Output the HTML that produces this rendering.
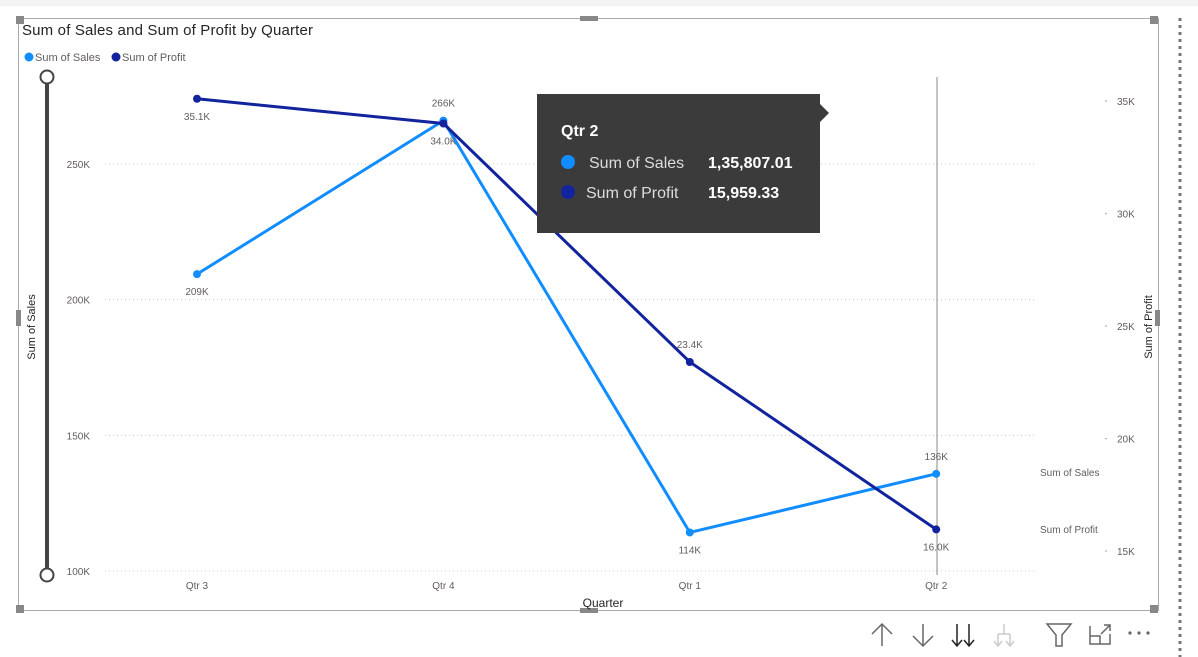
<!DOCTYPE html>
<html><head><meta charset="utf-8"><style>
body{margin:0;width:1198px;height:657px;background:#fff;overflow:hidden;font-family:"Liberation Sans",sans-serif;}
svg{position:absolute;left:0;top:0}
</style></head><body>
<svg width="1198" height="657">
<rect x="0" y="0" width="1198" height="6" fill="#f3f3f3"/>
<line x1="1180" y1="18" x2="1180" y2="657" stroke="#777" stroke-width="3" stroke-dasharray="3,4"/>
<rect x="18.5" y="18.5" width="1140" height="592" fill="none" stroke="#aaa"/>
<g fill="#888"><rect x="16" y="16" width="8" height="8"/><rect x="580" y="16" width="18" height="5"/><rect x="1150" y="16" width="8" height="8"/><rect x="16" y="310" width="5" height="16"/><rect x="1155" y="310" width="5" height="16"/><rect x="16" y="605" width="8" height="8"/><rect x="580" y="608" width="18" height="5"/><rect x="1150" y="605" width="8" height="8"/></g>
<text x="22" y="35" font-size="15" fill="#252423" textLength="291">Sum of Sales and Sum of Profit by Quarter</text>
<g font-size="11" fill="#605e5c">
<circle cx="29" cy="57" r="4.5" fill="#118DFF"/><text x="35" y="61">Sum of Sales</text>
<circle cx="116" cy="57" r="4.5" fill="#12239E"/><text x="122" y="61">Sum of Profit</text></g>
<g><line x1="47" y1="82" x2="47" y2="572" stroke="#444" stroke-width="4"/>
<circle cx="47" cy="77" r="6.5" fill="#fff" stroke="#444" stroke-width="2"/><circle cx="47" cy="575" r="6.5" fill="#fff" stroke="#444" stroke-width="2"/></g>
<g id="grid"></g><g id="ticks" font-size="10" fill="#605e5c"></g>
<text transform="translate(35,327) rotate(-90)" text-anchor="middle" font-size="11" fill="#252423">Sum of Sales</text>
<text transform="translate(1152,327) rotate(-90)" text-anchor="middle" font-size="11" fill="#252423">Sum of Profit</text>
<text x="603" y="607" text-anchor="middle" font-size="12" fill="#252423">Quarter</text>
<line x1="937" y1="77" x2="937" y2="575" stroke="#888"/>
<g id="series"></g>
<text x="1040" y="476" font-size="10" fill="#605e5c">Sum of Sales</text>
<text x="1040" y="533" font-size="10" fill="#605e5c">Sum of Profit</text>
<g>
<rect x="537" y="94" width="283" height="139" fill="#3b3b3b"/><polygon points="820,104 829,113 820,122" fill="#3b3b3b"/>
<text x="561" y="136" font-size="16" font-weight="bold" fill="#fff">Qtr 2</text>
<circle cx="568" cy="162" r="7" fill="#118DFF"/><text x="589" y="168" font-size="16" fill="#ddd">Sum of Sales</text><text x="708" y="168" font-size="16" font-weight="bold" fill="#fff">1,35,807.01</text>
<circle cx="568" cy="192" r="7" fill="#12239E"/><text x="586" y="198" font-size="16" fill="#ddd">Sum of Profit</text><text x="708" y="198" font-size="16" font-weight="bold" fill="#fff">15,959.33</text></g>
<g stroke="#666" stroke-width="1.5" fill="none">
<path d="M882 624V646M872 634L882 624L892 634"/>
<path d="M923 624V646M913 636L923 646L933 636"/>
<path d="M957 624V646M952 640L957 646L962 640M969 624V646M964 640L969 646L974 640" stroke="#222"/>
<path d="M1004 624V634M998 634H1010M998 634V646M1010 634V646M994 641L998 646L1002 641M1006 641L1010 646L1014 641" stroke="#ccc"/>
<path d="M1047 624H1071L1062 635V646H1056V635Z"/>
<path d="M1090 626V644H1110V634M1090 636H1100V644M1101 634L1110 625M1104 625H1110V631"/>
<g fill="#666" stroke="none"><circle cx="1130" cy="633" r="1.6"/><circle cx="1139" cy="633" r="1.6"/><circle cx="1148" cy="633" r="1.6"/></g></g>
</svg>
<script>
const quarters=["Qtr 3","Qtr 4","Qtr 1","Qtr 2"];
const sales=[209400,266000,114200,135807];
const profit=[35100,34000,23400,15959];
const salesLabels=["209K","266K","114K","136K"];
const profitLabels=["35.1K","34.0K","23.4K","16.0K"];
const leftTicks=[100000,150000,200000,250000];
const leftTickLabels=["100K","150K","200K","250K"];
const rightTicks=[15000,20000,25000,30000,35000];
const rightTickLabels=["15K","20K","25K","30K","35K"];
const NS="http://www.w3.org/2000/svg";
const x=i=>197+i*246.4;
const yL=v=>571-(v-100000)/50000*135.67;
const yR=v=>551-(v-15000)/5000*112.5;
function mk(t,a,p){const e=document.createElementNS(NS,t);for(const k in a)e.setAttribute(k,a[k]);p.appendChild(e);return e;}
const grid=document.getElementById('grid'),ticks=document.getElementById('ticks'),ser=document.getElementById('series');
leftTicks.forEach((v,i)=>{const l=mk('line',{x1:105,x2:1035,y1:yL(v),y2:yL(v),stroke:'#ccc','stroke-dasharray':'1,3'},grid);


const t=mk('text',{x:90,y:yL(v)+4,'text-anchor':'end'},ticks);t.textContent=leftTickLabels[i];

});
rightTicks.forEach((v,i)=>{mk('circle',{cx:1106,cy:yR(v),r:0.8,fill:'#999'},ticks);
const t=mk('text',{x:1117,y:yR(v)+4},ticks);t.textContent=rightTickLabels[i];

});
quarters.forEach((q,i)=>{const t=mk('text',{x:x(i),y:589,'text-anchor':'middle'},ticks);t.textContent=q;

});
function series(vals,labels,yf,color,name,below){
const p=mk('polyline',{points:vals.map((v,i)=>x(i)+','+yf(v)).join(' '),fill:'none',stroke:color,'stroke-width':3},ser);


vals.forEach((v,i)=>{const c=mk('circle',{cx:x(i),cy:yf(v),r:4,fill:color},ser);


const b=below[i];const t=mk('text',{x:x(i),y:yf(v)+(b?21:-14),'text-anchor':'middle','font-size':10,fill:'#605e5c'},ser);t.textContent=labels[i];

});}
series(sales,salesLabels,yL,'#118DFF','sales',[true,false,true,false]);
series(profit,profitLabels,yR,'#12239E','profit',[true,true,false,true]);
</script>
</body></html>
